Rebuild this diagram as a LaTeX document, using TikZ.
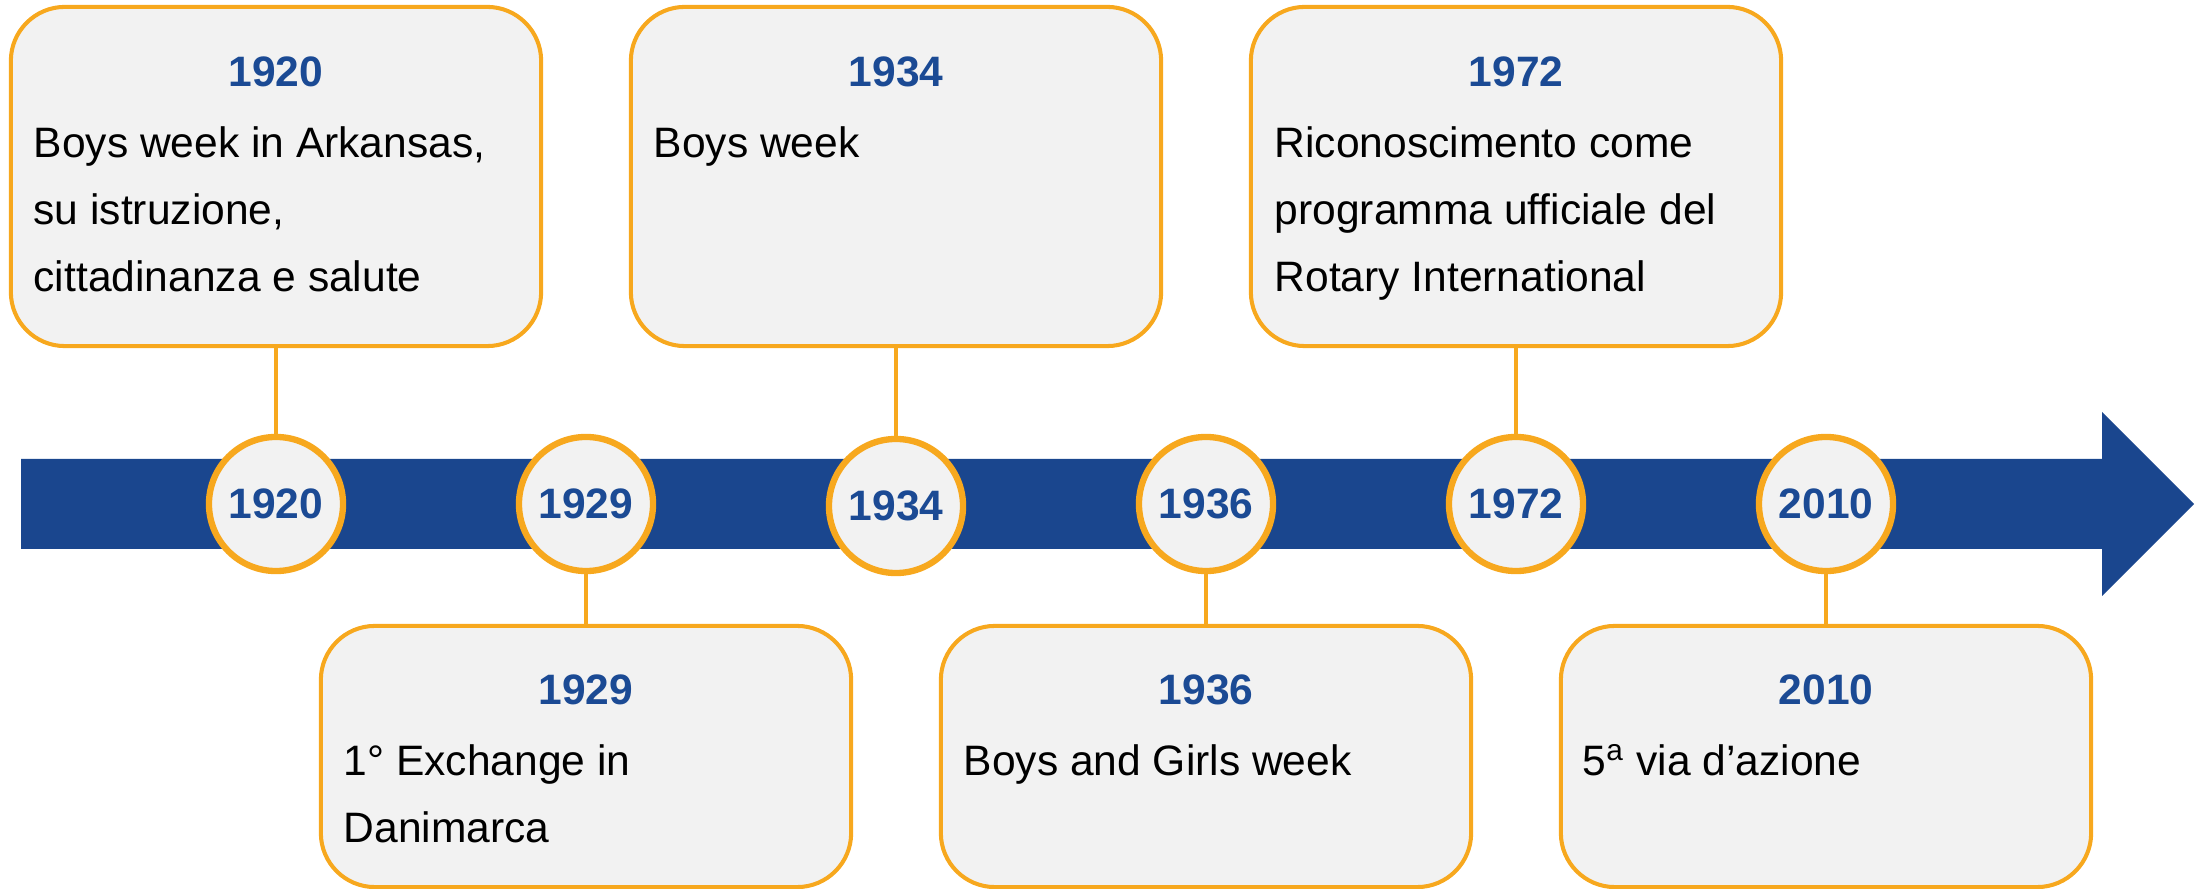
\documentclass[tikz,border=0pt]{standalone}
\usepackage{fontspec}
\setmainfont{Liberation Sans}
\definecolor{bandblue}{HTML}{1A468E}
\definecolor{yearblue}{HTML}{1B4A94}
\definecolor{gold}{HTML}{F7A81E}
\definecolor{boxfill}{HTML}{F2F2F2}
\begin{document}
\begin{tikzpicture}[x=0.01cm,y=-0.01cm,
  card/.style={draw=gold, line width=1.15pt, fill=boxfill, rounded corners=0.54cm, minimum width=5.30cm, inner sep=0},
  topcard/.style={card, minimum height=3.39cm},
  botcard/.style={card, minimum height=2.61cm},
  dot/.style={circle, draw=gold, line width=1.8pt, fill=boxfill, minimum size=1.34cm, inner sep=0, font=\fontsize{12.1}{14}\selectfont\bfseries, text=yearblue},
  yr/.style={anchor=base, inner sep=0, font=\fontsize{12.1}{14}\selectfont\bfseries, text=yearblue},
  body/.style={anchor=base west, inner sep=0, font=\fontsize{12.1}{19}\selectfont},
  link/.style={draw=gold, line width=1.1pt}
]
\useasboundingbox (0,0) rectangle (2206,889);
% timeline band
\fill[bandblue] (21,459) -- (2102,459) -- (2102,412) -- (2194,504) -- (2102,596) -- (2102,549) -- (21,549) -- cycle;

% cards
\node[topcard] (b1920) at (276,176.5) {};
\node[topcard] (b1934) at (896,176.5) {};
\node[topcard] (b1972) at (1516,176.5) {};
\node[botcard] (b1929) at (586,756.5) {};
\node[botcard] (b1936) at (1206,756.5) {};
\node[botcard] (b2010) at (1826,756.5) {};

% circles
\node[dot] (c1920) at (276,504) {1920};
\node[dot] (c1929) at (586,504) {1929};
\node[dot] (c1934) at (896,506) {1934};
\node[dot] (c1936) at (1206,504) {1936};
\node[dot] (c1972) at (1516,504) {1972};
\node[dot] (c2010) at (1826,504) {2010};

% connectors
\draw[link] (b1920.south) -- (c1920.north);
\draw[link] (b1934.south) -- (c1934.north);
\draw[link] (b1972.south) -- (c1972.north);
\draw[link] (c1929.south) -- (b1929.north);
\draw[link] (c1936.south) -- (b1936.north);
\draw[link] (c2010.south) -- (b2010.north);

% years in cards
\node[yr] (y1920) at (276,87) {1920};
\node[yr] (y1934) at (896,87) {1934};
\node[yr] (y1972) at (1516,87) {1972};
\node[yr] (y1929) at (586,705) {1929};
\node[yr] (y1936) at (1206,705) {1936};
\node[yr] (y2010) at (1826,705) {2010};

% body texts
\node[body] (t1920) at (33,158) {\parbox[t]{5cm}{Boys week in Arkansas,\\su istruzione,\\cittadinanza e salute}};
\node[body] (t1934) at (653,158) {\parbox[t]{5cm}{Boys week}};
\node[body] (t1972) at (1274,158) {\parbox[t]{5cm}{Riconoscimento come\\programma ufficiale del\\Rotary International}};
\node[body] (t1929) at (343,776) {\parbox[t]{5cm}{1° Exchange in\\Danimarca}};
\node[body] (t1936) at (963,776) {\parbox[t]{5cm}{Boys and Girls week}};
\node[body] (t2010) at (1582,776) {\parbox[t]{5cm}{5\textsuperscript{a} via d’azione}};
\end{tikzpicture}
\end{document}
